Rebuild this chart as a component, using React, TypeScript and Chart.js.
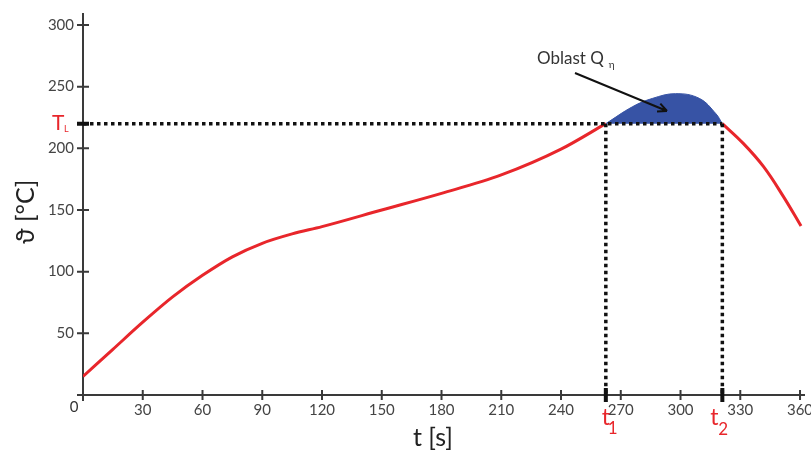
import React, { useEffect, useRef } from 'react';
import { Chart, registerables } from 'chart.js';

Chart.register(...registerables);

// ---- data ----
const X_TICKS = [30, 60, 90, 120, 150, 180, 210, 240, 270, 300, 330, 360];
const Y_TICKS = [50, 100, 150, 200, 250, 300];
const T_L = 220;
const T1 = 262.5;
const T2 = 321;

const HEAT_X = [0, 15, 30, 45, 60, 75, 90, 105, 120, 150, 180, 210, 240, 262.5];
const HEAT_Y = [15, 37, 59, 79.5, 97, 112, 123, 130.6, 136.5, 150, 163.5, 178.4, 199.3, 220];

const PEAK_X = [262.5, 276, 286, 297.5, 309.4, 317.8, 321];
const PEAK_Y = [220, 233.8, 240.5, 244.3, 240.5, 228, 220];

const COOL_X = [321, 331.5, 341.6, 351.6, 360.5];
const COOL_Y = [220, 204, 185.3, 161, 137];

const X_TITLE = 't [s]';
const Y_TITLE = 'ϑ [°C]';
const AREA_LABEL = 'Oblast Q';
const AREA_SUB = 'η';

const RED = '#e8262b';
const BLUE = 'rgb(55, 83, 165)';
const AXIS = '#3a3a3a';
const FONT = 'Lato, "Open Sans", sans-serif';

const pts = (xs: number[], ys: number[]) => xs.map((x, i) => ({ x, y: ys[i] }));

const overlay = {
  id: 'overlay',
  beforeDatasetsDraw(chart: any) {
    const { ctx, scales } = chart;
    const xs = scales.x;
    const ys = scales.y;
    const x0 = xs.getPixelForValue(0);
    const y0 = ys.getPixelForValue(0);
    ctx.save();
    ctx.strokeStyle = AXIS;
    ctx.lineWidth = 2;
    ctx.beginPath();
    ctx.moveTo(x0 - 6, y0);
    ctx.lineTo(chart.chartArea.right, y0);
    ctx.moveTo(x0, chart.chartArea.top);
    ctx.lineTo(x0, y0 + 6);
    for (const v of X_TICKS) {
      const p = xs.getPixelForValue(v);
      ctx.moveTo(p, y0 - 5);
      ctx.lineTo(p, y0 + 5);
    }
    for (const v of Y_TICKS) {
      const p = ys.getPixelForValue(v);
      ctx.moveTo(x0 - 6, p);
      ctx.lineTo(x0 + 6, p);
    }
    ctx.stroke();
    ctx.restore();
  },
  afterDatasetsDraw(chart: any) {
    const { ctx, scales } = chart;
    const xs = scales.x;
    const ys = scales.y;
    const x0 = xs.getPixelForValue(0);
    const y0 = ys.getPixelForValue(0);
    const yl = ys.getPixelForValue(T_L);
    const p1 = xs.getPixelForValue(T1);
    const p2 = xs.getPixelForValue(T2);
    ctx.save();
    // thick markers
    ctx.strokeStyle = '#111';
    ctx.lineWidth = 4;
    ctx.beginPath();
    ctx.moveTo(x0 - 6, yl);
    ctx.lineTo(x0 + 6, yl);
    ctx.moveTo(p1, y0 - 7);
    ctx.lineTo(p1, y0 + 7);
    ctx.moveTo(p2, y0 - 7);
    ctx.lineTo(p2, y0 + 7);
    ctx.stroke();

    // zero label
    ctx.fillStyle = '#333';
    ctx.font = `15px ${FONT}`;
    ctx.textAlign = 'center';
    ctx.textBaseline = 'middle';
    ctx.fillText('0', x0 - 9, y0 + 12);

    // red labels
    ctx.fillStyle = RED;
    ctx.textAlign = 'left';
    ctx.textBaseline = 'alphabetic';
    ctx.font = `21px ${FONT}`;
    ctx.fillText('T', 52, yl + 6);
    ctx.font = `9px ${FONT}`;
    ctx.fillText('L', 64, yl + 8);

    ctx.font = `23px ${FONT}`;
    ctx.fillText('t', p1 - 4, y0 + 30);
    ctx.fillText('t', p2 - 12, y0 + 30);
    ctx.font = `17px ${FONT}`;
    ctx.fillText('1', p1 + 2, y0 + 39);
    ctx.fillText('2', p2 - 4, y0 + 40);

    // annotation
    ctx.fillStyle = '#333';
    ctx.font = `17px ${FONT}`;
    ctx.fillText(AREA_LABEL, 537, 64);
    const w = ctx.measureText(AREA_LABEL).width;
    ctx.font = `10px ${FONT}`;
    ctx.fillText(AREA_SUB, 537 + w + 5, 68);

    // arrow
    const ax = 575, ay = 73, bx = 667, by = 111;
    ctx.strokeStyle = '#111';
    ctx.lineWidth = 2;
    ctx.beginPath();
    ctx.moveTo(ax, ay);
    ctx.lineTo(bx, by);
    const ang = Math.atan2(by - ay, bx - ax);
    ctx.moveTo(bx, by);
    ctx.lineTo(bx - 10 * Math.cos(ang - 0.45), by - 10 * Math.sin(ang - 0.45));
    ctx.moveTo(bx, by);
    ctx.lineTo(bx - 10 * Math.cos(ang + 0.45), by - 10 * Math.sin(ang + 0.45));
    ctx.stroke();

    // axis titles
    ctx.fillStyle = '#222';
    ctx.font = `25px ${FONT}`;
    ctx.textAlign = 'center';
    ctx.textBaseline = 'middle';
    ctx.fillText(X_TITLE, 433, 438);
    ctx.save();
    ctx.translate(26, 212);
    ctx.rotate(-Math.PI / 2);
    ctx.fillText(Y_TITLE, 0, 0);
    ctx.restore();
    ctx.restore();
  },
};

const dotted = (data: { x: number; y: number }[]) => ({
  data,
  borderColor: '#111',
  borderWidth: 3.5,
  borderDash: [3.5, 3.5],
  pointRadius: 0,
  tension: 0,
  fill: false,
  order: 0,
});

export default function App() {
  const ref = useRef<HTMLCanvasElement>(null);
  useEffect(() => {
    if (!ref.current) return;
    const chart = new Chart(ref.current, {
      type: 'line',
      data: {
        datasets: [
          dotted([{ x: 0, y: T_L }, { x: T2, y: T_L }]) as any,
          dotted([{ x: T1, y: T_L }, { x: T1, y: 0 }]) as any,
          dotted([{ x: T2, y: T_L }, { x: T2, y: 0 }]) as any,
          {
            data: pts(HEAT_X, HEAT_Y),
            borderColor: RED,
            borderWidth: 3,
            pointRadius: 0,
            cubicInterpolationMode: 'monotone',
            fill: false,
            order: 1,
          },
          {
            data: pts(COOL_X, COOL_Y),
            borderColor: RED,
            borderWidth: 3,
            pointRadius: 0,
            tension: 0.4,
            fill: false,
            order: 1,
          },
          {
            data: pts(PEAK_X, PEAK_Y),
            borderColor: BLUE,
            backgroundColor: BLUE,
            borderWidth: 1,
            pointRadius: 0,
            tension: 0.4,
            fill: { value: T_L },
            order: 2,
          },
        ],
      },
      options: {
        animation: false,
        responsive: false,
        devicePixelRatio: 1,
        layout: { padding: { top: 13, right: 6, left: 0, bottom: 0 } },
        plugins: { legend: { display: false }, tooltip: { enabled: false } },
        scales: {
          x: {
            type: 'linear',
            min: 0,
            max: 362.5,
            afterBuildTicks: (s: any) => {
              s.ticks = X_TICKS.map((v) => ({ value: v }));
            },
            afterFit: (s: any) => {
              s.height = 56;
              s.paddingLeft = 0;
              s.paddingRight = 0;
            },
            ticks: {
              color: '#444',
              font: { family: FONT, size: 15 },
              padding: 6,
              maxRotation: 0,
              autoSkip: false,
            },
            grid: { display: false, drawTicks: false },
            border: { display: false },
          },
          y: {
            type: 'linear',
            min: 0,
            max: 309.7,
            afterBuildTicks: (s: any) => {
              s.ticks = Y_TICKS.map((v) => ({ value: v }));
            },
            afterFit: (s: any) => {
              s.width = 83;
              s.paddingTop = 0;
              s.paddingBottom = 0;
            },
            ticks: {
              color: '#444',
              font: { family: FONT, size: 15 },
              padding: 9,
              autoSkip: false,
            },
            grid: { display: false, drawTicks: false },
            border: { display: false },
          },
        },
      } as any,
      plugins: [overlay],
    });
    return () => chart.destroy();
  }, []);
  return (
    <div style={{ position: 'absolute', left: 0, top: 0, width: 811, height: 451, background: '#fff' }}>
      <canvas ref={ref} width={811} height={451} />
    </div>
  );
}
